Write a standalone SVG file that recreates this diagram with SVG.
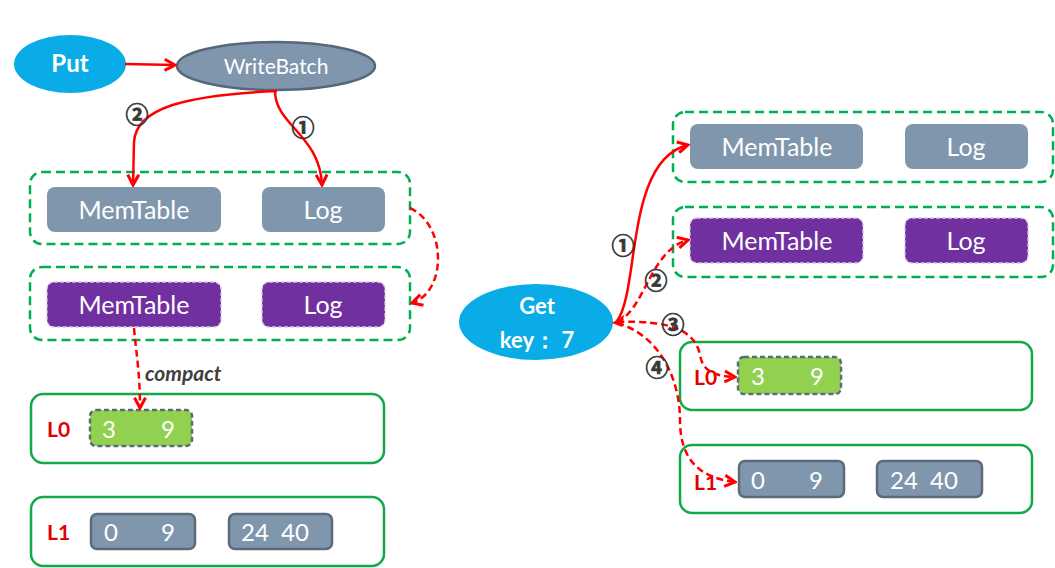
<svg xmlns="http://www.w3.org/2000/svg" width="1055" height="568" viewBox="0 0 1055 568">
<style>
.t{font-family:Lato,"Open Sans","Liberation Sans",sans-serif;fill:#fff;text-anchor:middle}
.blue{fill:#0aace8}
.grp{fill:none;stroke:#00b050;stroke-width:2.5;stroke-dasharray:9 5}
.lvl{fill:none;stroke:#14a84a;stroke-width:2.5}
.slate{fill:#7f96ad}
.rng{fill:#7f96ad;stroke:#5b6b7c;stroke-width:2.5}
.grn{fill:#92d050;stroke:#5b6b7c;stroke-width:2.5;stroke-dasharray:5 3}
.pur{fill:#7030a0;stroke:#d8c6ea;stroke-width:1.3;stroke-dasharray:4 2}
.lbl{font-family:Lato,"Liberation Sans",sans-serif;font-weight:bold;fill:#e00000;font-size:21px}
.num{font-family:"Noto Sans CJK SC","DejaVu Sans",sans-serif;font-size:23px;font-weight:bold;fill:#383838;stroke:#383838;stroke-width:0.7;text-anchor:middle}
.r{fill:none;stroke:#f00;stroke-width:2.5}
.d{stroke-dasharray:7 4}
</style>
<defs>
<marker id="ah" viewBox="0 0 10 10" refX="8.5" refY="5" markerWidth="5.5" markerHeight="5.5" orient="auto" markerUnits="strokeWidth">
<path d="M1,1 L8.5,5 L1,9" fill="none" stroke="#f00" stroke-width="2.2"/>
</marker>
</defs>

<!-- Left side -->
<g id="put"><ellipse class="blue" cx="70" cy="64" rx="56" ry="29"/><text class="t" x="70" y="72" font-size="24" font-weight="bold">Put</text></g>
<g id="writebatch"><ellipse cx="276" cy="66" rx="99" ry="24" fill="#7f96ad" stroke="#56677a" stroke-width="2.5"/><text class="t" x="276" y="74" font-size="21">WriteBatch</text></g>

<g id="memgroup-left"><rect class="grp" x="30" y="172" width="380" height="72" rx="12"/></g>
<g id="memtable-left"><rect class="slate" x="47" y="187" width="174" height="45" rx="8"/><text class="t" x="134" y="219" font-size="25">MemTable</text></g>
<g id="log-left"><rect class="slate" x="262" y="187" width="123" height="45" rx="8"/><text class="t" x="323" y="219" font-size="25">Log</text></g>

<g id="immgroup-left"><rect class="grp" x="30" y="267" width="380" height="73" rx="12"/></g>
<g id="immtable-left"><rect class="pur" x="47" y="282" width="174" height="45" rx="7"/><text class="t" x="134" y="314" font-size="25">MemTable</text></g>
<g id="immlog-left"><rect class="pur" x="262" y="282" width="123" height="45" rx="7"/><text class="t" x="323" y="314" font-size="25">Log</text></g>

<g id="l0-left"><rect class="lvl" x="31" y="394" width="353" height="69" rx="12"/><text class="lbl" x="47" y="437">L0</text>
<rect class="grn" x="90" y="410" width="102" height="36" rx="6"/><text class="t" x="109" y="438" font-size="24">3</text><text class="t" x="168" y="438" font-size="24">9</text></g>
<g id="l1-left"><rect class="lvl" x="31" y="497" width="353" height="69" rx="12"/><text class="lbl" x="47" y="540">L1</text>
<rect class="rng" x="91" y="514" width="104" height="35" rx="6"/><text class="t" x="111" y="541" font-size="24">0</text><text class="t" x="168" y="541" font-size="24">9</text>
<rect class="rng" x="229" y="514" width="103" height="35" rx="6"/><text class="t" x="255" y="541" font-size="24">24</text><text class="t" x="295" y="541" font-size="24">40</text></g>

<!-- Right side -->
<g id="get"><ellipse class="blue" cx="536" cy="322" rx="77" ry="38"/><text class="t" x="537" y="314" font-size="22" font-weight="bold">Get</text><text class="t" x="537" y="348" font-size="22" font-weight="bold">key： 7</text></g>

<g id="memgroup-right"><rect class="grp" x="673" y="112" width="380" height="70" rx="12"/></g>
<g id="memtable-right"><rect class="slate" x="690" y="124" width="173" height="45" rx="8"/><text class="t" x="777" y="156" font-size="25">MemTable</text></g>
<g id="log-right"><rect class="slate" x="905" y="124" width="123" height="45" rx="8"/><text class="t" x="966" y="156" font-size="25">Log</text></g>

<g id="immgroup-right"><rect class="grp" x="673" y="207" width="380" height="70" rx="12"/></g>
<g id="immtable-right"><rect class="pur" x="690" y="218" width="173" height="45" rx="7"/><text class="t" x="777" y="250" font-size="25">MemTable</text></g>
<g id="immlog-right"><rect class="pur" x="905" y="218" width="123" height="45" rx="7"/><text class="t" x="966" y="250" font-size="25">Log</text></g>

<g id="l0-right"><rect class="lvl" x="680" y="342" width="352" height="68" rx="12"/><text class="lbl" x="694" y="385" font-weight="normal" font-size="23">L0</text>
<rect class="grn" x="738" y="357" width="103" height="37" rx="6"/><text class="t" x="758" y="385" font-size="24">3</text><text class="t" x="817" y="385" font-size="24">9</text></g>
<g id="l1-right"><rect class="lvl" x="680" y="445" width="352" height="68" rx="12"/><text class="lbl" x="694" y="490" font-weight="normal" font-size="23">L1</text>
<rect class="rng" x="739" y="461" width="105" height="36" rx="6"/><text class="t" x="758" y="489" font-size="24">0</text><text class="t" x="816" y="489" font-size="24">9</text>
<rect class="rng" x="877" y="461" width="105" height="36" rx="6"/><text class="t" x="904" y="489" font-size="24">24</text><text class="t" x="944" y="489" font-size="24">40</text></g>

<g id="connectors">
<path class="r" d="M125,64 L175,65" marker-end="url(#ah)"/>
<path class="r" d="M275,91 C275,125 320,135 322,185" marker-end="url(#ah)"/>
<path class="r" d="M277,91 C185,95 136,108 134,142 L133,185" marker-end="url(#ah)"/>
<path class="r d" d="M410,208 C447,225 447,292 412,303" marker-end="url(#ah)"/>
<path class="r d" d="M134,328 C136,352 140,372 140,408" marker-end="url(#ah)"/>
<text class="num" x="303" y="136">①</text>
<text class="num" x="137" y="123">②</text>
<text x="145" y="381" font-family="Lato,'Liberation Sans',sans-serif" font-size="21" font-weight="bold" font-style="italic" fill="#404040">compact</text>

<path class="r" d="M617,321 C640,290 625,160 688,145" marker-end="url(#ah)"/>
<path class="r d" d="M617,322 C645,310 650,250 688,240" marker-end="url(#ah)"/>
<path class="r d" d="M617,322 C670,320 695,330 700,355 C703,372 715,376 735,377" marker-end="url(#ah)"/>
<path class="r d" d="M617,323 C660,335 680,380 680,420 C680,460 700,478 735,482" marker-end="url(#ah)"/>
<polygon points="612,323 624,315 622,327" fill="#f00"/>
<text class="num" x="623" y="254">①</text>
<text class="num" x="656" y="289">②</text>
<text class="num" x="673" y="333">③</text>
<text class="num" x="657" y="376">④</text>
</g>
</svg>
